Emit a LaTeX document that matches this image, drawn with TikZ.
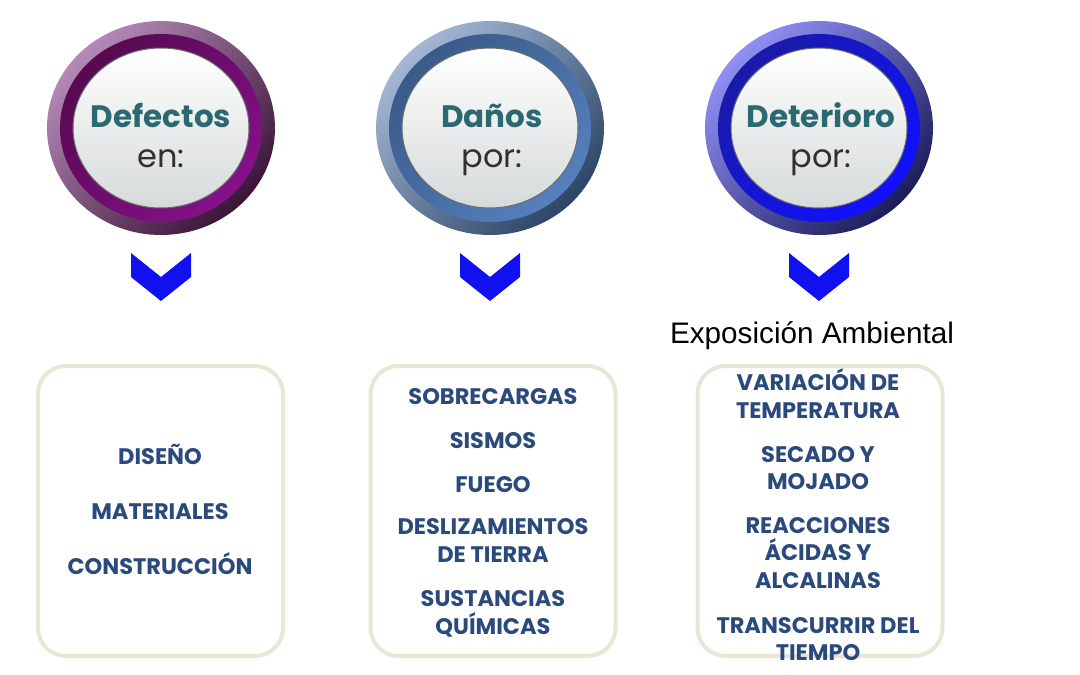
\documentclass[tikz,border=0pt]{standalone}
\usepackage{fontspec}
\setmainfont{Liberation Sans}
\newfontfamily\gothic{Poppins}
\usetikzlibrary{positioning}

\definecolor{defLight}{HTML}{B58AB8}
\definecolor{defDark}{HTML}{3A1538}
\definecolor{defBandA}{HTML}{560A50}
\definecolor{defBandB}{HTML}{86108A}
\definecolor{danLight}{HTML}{A4B8D6}
\definecolor{danDark}{HTML}{2D4566}
\definecolor{danBandA}{HTML}{3A5A88}
\definecolor{danBandB}{HTML}{5580BE}
\definecolor{detLight}{HTML}{9090F5}
\definecolor{detDark}{HTML}{1C1C5C}
\definecolor{detBandA}{HTML}{1A1AA8}
\definecolor{detBandB}{HTML}{1010FF}
\definecolor{diskGrey}{HTML}{D6DADA}
\definecolor{diskEdge}{HTML}{6A6A6A}
\definecolor{tealTxt}{HTML}{2A6872}
\definecolor{greyTxt}{HTML}{303030}
\definecolor{itemBlue}{HTML}{2B4A7C}
\definecolor{chevBlue}{HTML}{1010F0}
\definecolor{panelLine}{HTML}{E9E6D5}

\tikzset{
  title/.style={font=\gothic\bfseries\fontsize{31}{33}\selectfont, text=tealTxt, anchor=base},
  sub/.style={font=\gothic\fontsize{32}{34}\selectfont, text=greyTxt, anchor=base},
  item/.style={font=\gothic\bfseries\fontsize{22.5}{24}\selectfont, text=itemBlue, anchor=base},
  panel/.style={draw=panelLine, line width=4pt, fill=white, rounded corners=28pt,
    minimum width=245pt, minimum height=290pt, inner sep=0pt},
}

\begin{document}
\begin{tikzpicture}[x=1pt,y=-1pt]
    \useasboundingbox (0,0) rectangle (1080,675);

    % the three buttons and their chevrons
    \foreach \cx/\lt/\dk/\ba/\bb in {161/defLight/defDark/defBandA/defBandB,
                                     490/danLight/danDark/danBandA/danBandB,
                                     819/detLight/detDark/detBandA/detBandB} {
        \shade[top color=\lt, bottom color=\dk, shading angle=45] (\cx,128) ellipse [x radius=114, y radius=107];
        \shade[top color=\ba, bottom color=\bb, shading angle=45] (\cx,128) ellipse [x radius=101, y radius=94];
        \shade[top color=white, bottom color=diskGrey, draw=diskEdge, line width=1pt] (\cx,128) ellipse [x radius=88, y radius=80];
        \fill[chevBlue] (\cx-30,253) -- (\cx,277) -- (\cx+30,253) -- (\cx+30,277) -- (\cx,301) -- (\cx-30,277) -- cycle;
    }

    \node[title] (defectos) at (161,127) {Defectos};
    \node[sub] (en) at (161,167) {en:};
    \node[title] (danos) at (492,127) {Daños};
    \node[sub] (porDan) at (492,167) {por:};
    \node[title] (deterioro) at (821,127) {Deterioro};
    \node[sub] (porDet) at (821,167) {por:};

    \node[font=\fontsize{29.7}{32}\selectfont, anchor=base] (expo) at (812,343) {Exposición Ambiental};

    % panels
    \node[panel] (panelDef) at (160.5,511) {};
    \node[panel] (panelDan) at (493,511) {};
    \node[panel] (panelDet) at (820,511) {};

    \foreach \t/\y in {DISEÑO/464, MATERIALES/519, CONSTRUCCIÓN/574}
        \node[item] (def\y) at (160,\y) {\t};
    \foreach \t/\y in {SOBRECARGAS/404, SISMOS/448, FUEGO/492, DESLIZAMIENTOS/534,
                       DE TIERRA/562, SUSTANCIAS/606, QUÍMICAS/634}
        \node[item] (dan\y) at (493,\y) {\t};
    \foreach \t/\y in {VARIACIÓN DE/390, TEMPERATURA/418, SECADO Y/462, MOJADO/489,
                       REACCIONES/533, ÁCIDAS Y/560, ALCALINAS/588,
                       TRANSCURRIR DEL/633, TIEMPO/660}
        \node[item] (det\y) at (818,\y) {\t};
\end{tikzpicture}
\end{document}
